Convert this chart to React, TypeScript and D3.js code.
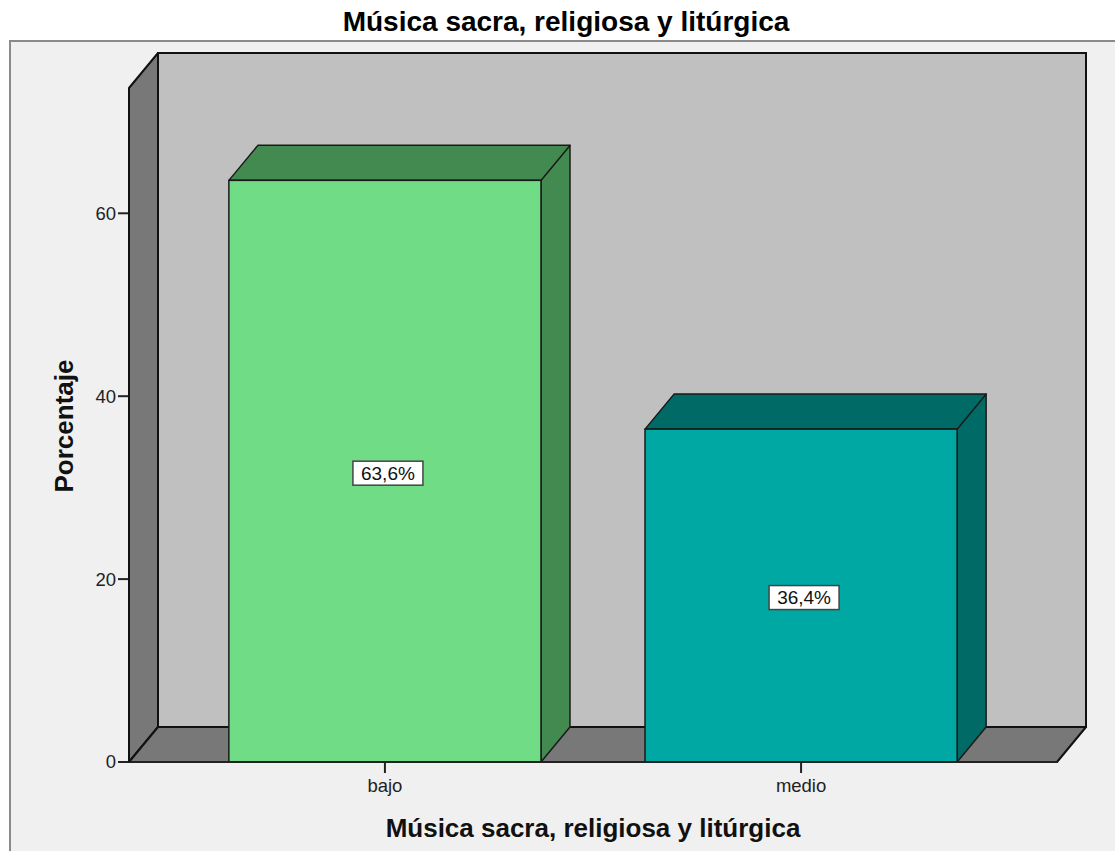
import React from "react";
import * as d3 from "d3";

const categories = ["bajo", "medio"];
const values = [63.6, 36.4];
const valueLabels = ["63,6%", "36,4%"];
const yTicks = [0, 20, 40, 60];
const yMax = 73.7;
const title = "Música sacra, religiosa y litúrgica";
const xTitle = "Música sacra, religiosa y litúrgica";
const yTitle = "Porcentaje";

const frontColors = ["#70dc85", "#00a8a3"];
const darkColors = ["#438a51", "#006a66"];

const W = 1115;
const H = 851;
const X0 = 129;
const X1 = 1057;
const Y0 = 762;
const YT = 88;
const DX = 29;
const DY = 35;
const FONT = "'Liberation Sans', Arial, sans-serif";

export default function App() {
  const y = d3.scaleLinear().domain([0, yMax]).range([Y0, YT]);
  const x = d3
    .scaleBand<string>()
    .domain(categories)
    .range([X0, X1])
    .paddingInner(0.25)
    .paddingOuter(0.24);

  const pts = (arr: [number, number][]) => arr.map((p) => p.join(",")).join(" ");

  return (
    <div style={{ position: "absolute", left: 0, top: 0 }}>
      <svg width={W} height={H} style={{ display: "block", background: "#ffffff" }}>
        <rect x={10} y={41} width={W + 20} height={H} fill="#f0f0f0" stroke="#8a8a8a" strokeWidth={2} />
        <text x={566} y={31} textAnchor="middle" fontFamily={FONT} fontWeight="bold" fontSize={28} fill="#000">
          {title}
        </text>
        {/* back wall */}
        <rect
          x={X0 + DX}
          y={YT - DY}
          width={X1 - X0}
          height={Y0 - YT}
          fill="#c0c0c0"
          stroke="#111"
          strokeWidth={2}
        />
        {/* left wall */}
        <polygon
          points={pts([
            [X0, YT],
            [X0 + DX, YT - DY],
            [X0 + DX, Y0 - DY],
            [X0, Y0],
          ])}
          fill="#787878"
          stroke="#111"
          strokeWidth={2}
          strokeLinejoin="round"
        />
        {/* floor */}
        <polygon
          points={pts([
            [X0, Y0],
            [X0 + DX, Y0 - DY],
            [X1 + DX, Y0 - DY],
            [X1, Y0],
          ])}
          fill="#787878"
          stroke="#111"
          strokeWidth={2}
          strokeLinejoin="round"
        />
        {/* y axis ticks */}
        {yTicks.map((t) => (
          <g key={t}>
            <line x1={X0 - 11} x2={X0} y1={y(t)} y2={y(t)} stroke="#222" strokeWidth={2} />
            <text
              x={X0 - 13}
              y={y(t)}
              dy="0.35em"
              textAnchor="end"
              fontFamily={FONT}
              fontSize={18.5}
              fill="#222"
            >
              {t}
            </text>
          </g>
        ))}
        {/* bars */}
        {categories.map((c, i) => {
          const bx = x(c) as number;
          const bw = x.bandwidth();
          const top = y(values[i]);
          return (
            <g key={c}>
              <polygon
                points={pts([
                  [bx + bw, top],
                  [bx + bw + DX, top - DY],
                  [bx + bw + DX, Y0 - DY],
                  [bx + bw, Y0],
                ])}
                fill={darkColors[i]}
                stroke="#1a1a1a"
                strokeWidth={1.5}
                strokeLinejoin="round"
              />
              <polygon
                points={pts([
                  [bx, top],
                  [bx + DX, top - DY],
                  [bx + bw + DX, top - DY],
                  [bx + bw, top],
                ])}
                fill={darkColors[i]}
                stroke="#1a1a1a"
                strokeWidth={1.5}
                strokeLinejoin="round"
              />
              <rect x={bx} y={top} width={bw} height={Y0 - top} fill={frontColors[i]} stroke="#1a1a1a" strokeWidth={1.5} />
            </g>
          );
        })}
        {/* x axis line and ticks */}
        <line x1={X0} x2={X1} y1={Y0} y2={Y0} stroke="#222" strokeWidth={2} />
        <line x1={X0} x2={X0} y1={YT} y2={Y0} stroke="#111" strokeWidth={2} />
        {categories.map((c) => {
          const cx = (x(c) as number) + x.bandwidth() / 2;
          return (
            <g key={c}>
              <line x1={cx} x2={cx} y1={Y0} y2={Y0 + 11} stroke="#222" strokeWidth={2} />
              <text x={cx} y={792} textAnchor="middle" fontFamily={FONT} fontSize={18.5} fill="#222">
                {c}
              </text>
            </g>
          );
        })}
        {/* value labels */}
        {categories.map((c, i) => {
          const cx = (x(c) as number) + x.bandwidth() / 2 + 3;
          const cy = (y(values[i]) + Y0) / 2 + 2;
          const bw = 70;
          const bh = 24;
          return (
            <g key={c}>
              <rect
                x={cx - bw / 2}
                y={cy - bh / 2}
                width={bw}
                height={bh}
                fill="#ffffff"
                stroke="#444"
                strokeWidth={1.5}
              />
              <text x={cx} y={cy} dy="0.36em" textAnchor="middle" fontFamily={FONT} fontSize={19} fill="#111">
                {valueLabels[i]}
              </text>
            </g>
          );
        })}
        {/* axis titles */}
        <text
          x={(X0 + X1) / 2}
          y={837}
          textAnchor="middle"
          fontFamily={FONT}
          fontWeight="bold"
          fontSize={26}
          fill="#111"
        >
          {xTitle}
        </text>
        <text
          transform={`translate(73,426) rotate(-90)`}
          textAnchor="middle"
          fontFamily={FONT}
          fontWeight="bold"
          fontSize={26}
          fill="#111"
        >
          {yTitle}
        </text>
      </svg>
    </div>
  );
}
